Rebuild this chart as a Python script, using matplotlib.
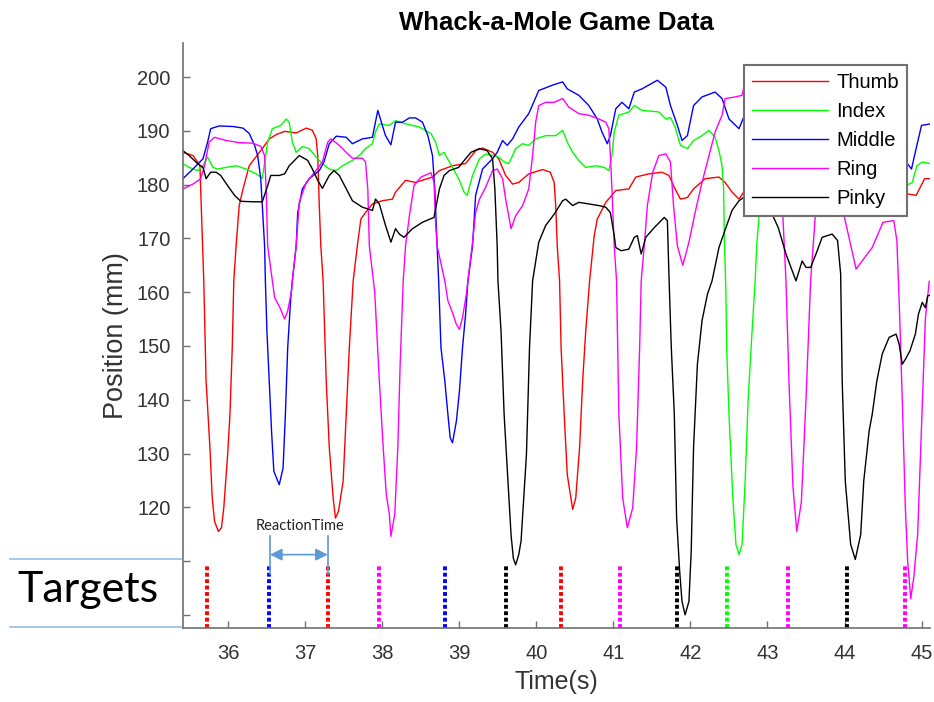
import matplotlib
matplotlib.use("Agg")
import matplotlib.pyplot as plt
from matplotlib.lines import Line2D

# finger positions (time in s, position in mm)
thumb_t = [35.41, 35.54, 35.60, 35.63, 35.68, 35.71, 35.76, 35.79, 35.82, 35.87, 35.91, 35.94, 35.99, 36.02, 36.05,
           36.07, 36.10, 36.14, 36.19, 36.27, 36.34, 36.44, 36.53, 36.62, 36.73, 36.88, 37.01, 37.09, 37.14, 37.16,
           37.18, 37.20, 37.23, 37.27, 37.31, 37.36, 37.39, 37.43, 37.49, 37.53, 37.57, 37.62, 37.68, 37.72, 37.78,
           37.87, 38.00, 38.13, 38.17, 38.30, 38.43, 38.65, 38.74, 38.91, 39.08, 39.21, 39.30, 39.43, 39.51, 39.60,
           39.69, 39.77, 39.90, 40.08, 40.18, 40.23, 40.25, 40.27, 40.30, 40.32, 40.36, 40.40, 40.47, 40.51, 40.56,
           40.60, 40.64, 40.69, 40.75, 40.79, 40.90, 41.03, 41.20, 41.29, 41.46, 41.63, 41.72, 41.80, 41.87, 41.96,
           42.04, 42.19, 42.37, 42.45, 42.54, 42.63, 42.69, 43.00, 43.50, 44.00, 44.50, 44.80, 44.93, 45.04, 45.12]
thumb_v = [186.0, 185.4, 184.2, 183.5, 162.1, 143.5, 131.1, 121.7, 117.4, 115.5, 116.2, 119.9, 129.8, 137.3, 149.7,
           162.1, 168.6, 176.1, 179.2, 183.5, 184.8, 186.7, 188.5, 189.3, 189.9, 189.6, 190.5, 190.1, 188.5, 185.4,
           176.1, 168.6, 162.1, 143.5, 131.1, 121.7, 118.0, 119.3, 124.9, 137.3, 149.7, 162.1, 169.3, 173.6, 174.8,
           176.4, 177.0, 177.3, 178.6, 180.8, 180.4, 181.4, 182.6, 183.5, 183.9, 186.3, 186.8, 186.0, 184.8, 181.7,
           180.1, 180.4, 182.0, 182.8, 182.3, 180.4, 176.1, 168.6, 162.1, 149.7, 137.3, 126.1, 119.6, 121.7, 131.1,
           143.5, 152.8, 162.1, 170.5, 173.6, 176.7, 178.9, 179.2, 181.4, 182.0, 182.3, 181.7, 179.2, 177.3, 177.6,
           179.2, 181.1, 181.4, 180.4, 178.6, 177.3, 178.6, 180.5, 181.0, 180.0, 179.0, 178.3, 178.0, 181.1, 181.1]

index_t = [35.41, 35.49, 35.60, 35.67, 35.73, 35.80, 35.86, 35.97, 36.10, 36.23, 36.36, 36.44, 36.51, 36.57, 36.68,
           36.75, 36.79, 36.83, 36.88, 36.96, 37.05, 37.14, 37.22, 37.31, 37.40, 37.48, 37.61, 37.70, 37.78, 37.87,
           37.91, 37.96, 38.09, 38.17, 38.30, 38.48, 38.63, 38.69, 38.74, 38.80, 38.87, 38.99, 39.06, 39.10, 39.17,
           39.26, 39.34, 39.43, 39.51, 39.58, 39.64, 39.69, 39.73, 39.82, 39.90, 39.99, 40.12, 40.25, 40.34, 40.40,
           40.47, 40.55, 40.64, 40.77, 40.88, 40.94, 40.98, 41.01, 41.07, 41.20, 41.27, 41.37, 41.59, 41.68, 41.74,
           41.80, 41.87, 41.96, 42.04, 42.15, 42.24, 42.32, 42.37, 42.41, 42.43, 42.44, 42.46, 42.47, 42.50, 42.55,
           42.59, 42.63, 42.67, 42.71, 42.75, 42.80, 42.84, 42.86, 42.89, 43.00, 43.50, 44.00, 44.50, 44.80, 44.88,
           44.94, 45.01, 45.12]
index_v = [183.9, 183.2, 182.6, 183.5, 185.1, 183.2, 182.9, 183.2, 183.5, 182.9, 182.0, 181.2, 187.9, 190.4, 191.0,
           192.2, 191.6, 187.9, 186.0, 187.1, 186.7, 185.1, 183.9, 182.9, 182.6, 183.5, 184.5, 185.4, 186.7, 187.6,
           189.8, 191.3, 191.0, 191.9, 191.3, 190.7, 189.5, 187.9, 185.4, 186.0, 184.2, 181.1, 178.6, 178.0, 181.7,
           184.8, 185.7, 185.4, 185.1, 184.2, 183.9, 185.4, 186.7, 187.6, 187.3, 188.5, 189.1, 189.1, 190.1, 187.9,
           186.0, 184.5, 183.2, 183.5, 183.2, 182.6, 185.4, 189.8, 192.9, 193.5, 194.7, 193.8, 193.5, 192.2, 192.5,
           190.7, 187.3, 186.7, 188.2, 189.1, 190.1, 188.8, 186.3, 183.5, 179.2, 170.0, 160.0, 149.7, 137.3, 121.7,
           113.1, 111.2, 113.1, 124.9, 140.4, 152.8, 162.1, 168.6, 174.2, 184.0, 188.0, 187.0, 184.0, 179.8, 180.4,
           183.5, 184.2, 183.9]

middle_t = [35.41, 35.54, 35.67, 35.73, 35.77, 35.88, 36.06, 36.19, 36.27, 36.34, 36.38, 36.42, 36.44, 36.47, 36.48,
            36.50, 36.53, 36.56, 36.59, 36.66, 36.71, 36.74, 36.77, 36.81, 36.83, 36.88, 36.90, 36.96, 37.05, 37.18,
            37.24, 37.31, 37.40, 37.53, 37.61, 37.74, 37.87, 37.94, 37.98, 38.04, 38.11, 38.17, 38.26, 38.35, 38.43,
            38.52, 38.59, 38.65, 38.68, 38.71, 38.73, 38.76, 38.81, 38.85, 38.88, 38.91, 38.96, 39.00, 39.04, 39.08,
            39.11, 39.17, 39.21, 39.30, 39.43, 39.49, 39.56, 39.62, 39.69, 39.77, 39.90, 40.03, 40.21, 40.34, 40.40,
            40.55, 40.68, 40.79, 40.85, 40.92, 40.96, 41.03, 41.11, 41.20, 41.27, 41.37, 41.57, 41.68, 41.74, 41.83,
            41.89, 41.96, 42.04, 42.15, 42.32, 42.41, 42.50, 42.63, 42.69, 43.00, 43.50, 44.00, 44.50, 44.80, 44.87,
            44.93, 45.00, 45.12]
middle_v = [181.1, 182.9, 184.8, 187.9, 190.4, 190.9, 190.8, 190.5, 189.5, 187.3, 185.4, 181.1, 176.1, 168.6, 162.1,
            152.8, 143.5, 134.2, 126.7, 124.2, 127.3, 137.3, 149.7, 159.0, 162.1, 168.6, 174.8, 179.2, 181.1, 182.6,
            184.2, 187.6, 189.0, 188.8, 187.6, 188.5, 188.8, 193.8, 191.9, 189.1, 187.4, 191.6, 191.6, 192.4, 192.4,
            191.6, 189.1, 185.4, 179.2, 168.6, 162.1, 149.7, 143.5, 137.3, 132.9, 132.0, 136.0, 141.6, 149.7, 155.9,
            162.1, 168.6, 178.0, 182.9, 184.8, 186.0, 188.2, 187.3, 188.5, 190.7, 193.2, 197.5, 198.5, 199.1, 197.8,
            196.6, 194.7, 192.2, 189.8, 187.6, 189.1, 194.1, 195.3, 194.1, 197.2, 197.8, 199.4, 198.1, 194.7, 191.0,
            188.2, 189.1, 194.7, 196.3, 197.2, 196.0, 192.2, 190.4, 192.5, 196.0, 195.0, 193.0, 188.0, 184.2, 182.9,
            186.7, 191.0, 191.3]

ring_t = [35.41, 35.54, 35.64, 35.69, 35.75, 35.82, 35.97, 36.14, 36.32, 36.42, 36.47, 36.49, 36.51, 36.57, 36.60,
          36.67, 36.73, 36.77, 36.82, 36.83, 36.88, 36.92, 37.01, 37.12, 37.22, 37.29, 37.33, 37.44, 37.53, 37.61,
          37.74, 37.78, 37.81, 37.83, 37.90, 37.96, 38.01, 38.05, 38.09, 38.11, 38.16, 38.20, 38.23, 38.27, 38.30,
          38.35, 38.41, 38.50, 38.63, 38.67, 38.69, 38.71, 38.81, 38.85, 38.91, 38.96, 39.00, 39.04, 39.09, 39.11,
          39.17, 39.21, 39.26, 39.34, 39.43, 39.49, 39.56, 39.60, 39.67, 39.73, 39.82, 39.90, 39.95, 39.99, 40.03,
          40.12, 40.23, 40.34, 40.42, 40.55, 40.68, 40.81, 40.90, 40.94, 40.96, 40.98, 41.01, 41.04, 41.07, 41.12,
          41.18, 41.25, 41.30, 41.34, 41.36, 41.40, 41.44, 41.51, 41.59, 41.68, 41.74, 41.78, 41.83, 41.90, 41.98,
          42.06, 42.15, 42.24, 42.32, 42.41, 42.45, 42.58, 42.67, 42.70, 42.90, 43.08, 43.20, 43.24, 43.28, 43.33,
          43.38, 43.44, 43.50, 43.56, 43.62, 43.75, 43.90, 44.00, 44.15, 44.36, 44.50, 44.64, 44.68, 44.71, 44.75,
          44.79, 44.82, 44.86, 44.90, 44.95, 45.00, 45.05, 45.10]
ring_v = [179.2, 180.1, 181.1, 183.5, 187.9, 188.8, 188.2, 187.8, 187.7, 187.1, 185.4, 179.2, 168.6, 162.1, 159.0,
          157.1, 155.0, 156.5, 160.3, 162.1, 168.6, 176.7, 180.4, 182.3, 184.2, 187.9, 188.5, 187.3, 186.0, 184.9,
          184.9, 184.2, 179.2, 168.6, 160.0, 143.5, 131.1, 122.4, 118.7, 114.6, 118.7, 131.1, 146.6, 162.1, 168.6,
          174.2, 179.8, 181.4, 182.2, 180.4, 173.0, 168.6, 162.1, 158.4, 156.2, 154.0, 153.1, 155.3, 159.6, 162.1,
          169.3, 174.8, 177.3, 179.5, 182.6, 182.9, 181.1, 177.3, 171.8, 174.2, 176.1, 179.2, 185.4, 191.6, 194.7,
          195.3, 195.3, 196.0, 194.4, 193.2, 192.9, 192.2, 191.6, 190.4, 185.4, 179.2, 168.6, 162.1, 137.3, 121.7,
          116.2, 119.9, 131.1, 149.7, 162.1, 168.6, 176.1, 182.3, 185.4, 185.7, 184.2, 176.1, 168.6, 165.0, 169.3,
          174.8, 180.4, 185.4, 189.8, 192.9, 196.0, 196.3, 196.6, 198.5, 198.0, 186.0, 174.0, 162.1, 143.0, 124.0,
          115.5, 121.0, 140.0, 162.1, 174.0, 184.0, 184.0, 173.9, 164.3, 168.3, 173.0, 173.3, 169.6, 158.4, 140.0,
          120.0, 110.0, 103.0, 107.0, 115.0, 135.0, 155.0, 162.0]

pinky_t = [35.41, 35.49, 35.60, 35.67, 35.71, 35.77, 35.84, 35.90, 35.99, 36.08, 36.16, 36.32, 36.44, 36.51, 36.55,
           36.66, 36.73, 36.79, 36.92, 37.03, 37.09, 37.16, 37.22, 37.31, 37.37, 37.44, 37.53, 37.61, 37.74, 37.87,
           37.91, 37.96, 38.04, 38.11, 38.17, 38.22, 38.28, 38.39, 38.52, 38.67, 38.74, 38.80, 38.87, 38.99, 39.08,
           39.15, 39.26, 39.36, 39.43, 39.46, 39.49, 39.50, 39.54, 39.58, 39.63, 39.67, 39.70, 39.73, 39.77, 39.80,
           39.87, 39.91, 39.95, 40.03, 40.12, 40.23, 40.34, 40.38, 40.47, 40.55, 40.68, 40.81, 40.90, 40.96, 41.01,
           41.03, 41.10, 41.20, 41.27, 41.31, 41.36, 41.42, 41.53, 41.66, 41.70, 41.72, 41.75, 41.79, 41.82, 41.86,
           41.89, 41.93, 41.98, 42.01, 42.02, 42.04, 42.09, 42.15, 42.22, 42.28, 42.37, 42.46, 42.54, 42.63, 42.69,
           42.85, 43.00, 43.06, 43.14, 43.24, 43.37, 43.45, 43.50, 43.56, 43.63, 43.71, 43.84, 43.91, 43.95, 43.97,
           44.01, 44.08, 44.14, 44.21, 44.25, 44.32, 44.36, 44.42, 44.49, 44.58, 44.67, 44.71, 44.75, 44.79, 44.85,
           44.92, 44.96, 45.01, 45.05, 45.08, 45.12]
pinky_v = [186.3, 185.4, 183.9, 183.2, 181.1, 182.3, 182.3, 181.7, 179.8, 178.0, 176.9, 176.8, 176.8, 179.8, 181.7,
           181.7, 182.0, 183.5, 185.4, 184.5, 182.9, 180.8, 179.3, 181.7, 182.6, 181.7, 179.2, 177.0, 175.8, 175.2,
           177.3, 176.4, 172.4, 169.3, 171.8, 170.8, 170.2, 171.8, 173.0, 173.9, 179.2, 181.7, 182.6, 183.2, 184.8,
           186.0, 186.7, 186.3, 184.8, 179.2, 168.6, 162.1, 152.8, 137.3, 124.9, 114.9, 110.5, 109.3, 111.2, 113.7,
           129.8, 149.7, 162.1, 169.3, 172.4, 174.5, 177.0, 177.3, 176.1, 176.7, 176.4, 176.1, 175.8, 174.8, 170.5,
           168.3, 167.7, 168.0, 170.2, 170.5, 167.1, 170.2, 172.0, 173.9, 173.3, 163.4, 150.0, 137.3, 118.0, 108.0,
           102.5, 100.0, 102.5, 112.0, 118.7, 131.1, 146.6, 154.7, 159.6, 162.1, 168.3, 172.0, 175.2, 177.0, 177.6,
           178.0, 176.0, 174.5, 172.0, 167.1, 162.1, 165.8, 164.6, 164.6, 167.1, 170.2, 170.8, 169.6, 163.4, 143.5,
           124.9, 113.1, 110.3, 114.9, 124.9, 134.2, 137.3, 143.5, 148.5, 151.6, 152.2, 150.3, 146.6, 147.5, 149.1,
           152.2, 155.9, 158.1, 157.1, 159.3, 159.5]

finger_names = ["Thumb", "Index", "Middle", "Ring", "Pinky"]
finger_colors = ["#ff0000", "#00ff00", "#0000ff", "#ff00ff", "#000000"]

# target onsets (s) and which finger they belong to
target_times = [35.72, 36.53, 37.29, 37.96, 38.81, 39.61, 40.32, 41.09, 41.82, 42.48, 43.27, 44.03, 44.79]
target_fingers = ["Thumb", "Middle", "Thumb", "Ring", "Middle", "Pinky", "Thumb", "Ring", "Pinky", "Index",
                  "Ring", "Pinky", "Ring"]

rt_start, rt_end = 36.54, 37.29

fig = plt.figure(figsize=(9.34, 7.02), dpi=100)
ax = fig.add_axes([0.1959, 0.105, 0.7998, 0.8343])

series = [(thumb_t, thumb_v), (index_t, index_v), (middle_t, middle_v), (ring_t, ring_v), (pinky_t, pinky_v)]
for (t, v), name, col in zip(series, finger_names, finger_colors):
    ax.plot(t, v, color=col, lw=1.0, label=name)

col_of = dict(zip(finger_names, finger_colors))
for tt, f in zip(target_times, target_fingers):
    ax.plot([tt, tt], [97.5, 109.3], color=col_of[f], lw=2.8,
            linestyle=(0, (1.0, 0.65)), dash_capstyle="butt")

# reaction time annotation
rt_col = "#5b9bd5"
ax.plot([rt_start, rt_start], [107.6, 114.6], color=rt_col, lw=1.2)
ax.plot([rt_end, rt_end], [107.6, 114.6], color=rt_col, lw=1.2)
ax.annotate("", xy=(rt_end, 111.2), xytext=(rt_start, 111.2),
            arrowprops=dict(arrowstyle="<|-|>", color=rt_col, lw=1.2, mutation_scale=18,
                            shrinkA=0, shrinkB=0))
ax.text((rt_start + rt_end) / 2 + 0.01, 116.5, "ReactionTime", ha="center", va="center",
        fontsize=10.5, family="Lato", color="#222222")

ax.set_xlim(35.41, 45.11)
ax.set_ylim(97.5, 206.4)
ax.set_xticks(range(36, 46))
ax.set_yticks(range(100, 201, 10))
ax.set_yticklabels(["", ""] + [str(v) for v in range(120, 201, 10)])

for s in ["top", "right"]:
    ax.spines[s].set_visible(False)
for s in ["left", "bottom"]:
    ax.spines[s].set_color("#707070")
    ax.spines[s].set_linewidth(1.2)
ax.tick_params(direction="in", length=5, width=1.0, color="#707070", labelcolor="#333333",
               labelsize=14.5)
ax.tick_params(axis="x", pad=11)
ax.tick_params(axis="y", pad=9)
for lab in ax.get_xticklabels() + ax.get_yticklabels():
    lab.set_family("Liberation Sans")

ax.set_title("Whack-a-Mole Game Data", fontsize=18.5, fontweight="bold", family="Liberation Sans", pad=9)
ax.set_xlabel("Time(s)", fontsize=18, family="Liberation Sans", color="#333333", labelpad=5)
ax.set_ylabel("Position (mm)", fontsize=19.5, family="Liberation Sans", color="#333333", labelpad=6)

leg = ax.legend(loc="upper right", bbox_to_anchor=(0.969, 0.962), borderaxespad=0, fancybox=False,
                framealpha=1, edgecolor="#707070", handlelength=3.8, handletextpad=0.4,
                labelspacing=0.5, borderpad=0.4,
                prop={"family": "Liberation Sans", "size": 14.5})
leg.get_frame().set_linewidth(1.5)

# "Targets" row label to the left of the axes
fig.text(88 / 934, 1 - 590 / 702, "Targets", ha="center", va="center", fontsize=31, family="Lato")
line_col = "#9dc3e6"
for yy in [559, 627]:
    fig.add_artist(Line2D([10 / 934, 181 / 934], [1 - yy / 702, 1 - yy / 702], color=line_col, lw=1.3))

fig.savefig("out.png", dpi=100)
